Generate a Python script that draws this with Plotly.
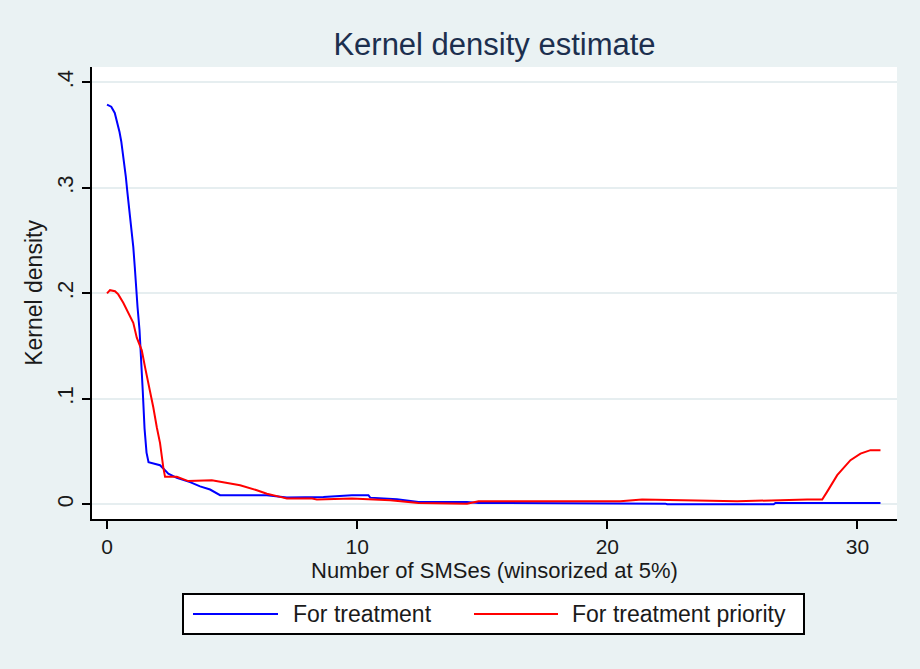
import plotly.graph_objects as go

# ---- data ----
treat_x = [0, 0.17, 0.31, 0.40, 0.50, 0.57, 0.67, 0.75, 0.81, 0.89, 0.98, 1.05, 1.11, 1.16,
           1.22, 1.30, 1.36, 1.43, 1.50, 1.58, 1.66, 2.12, 2.25, 2.45, 2.79, 3.32, 3.72, 4.12,
           4.52, 6.39, 7.19, 8.2, 8.65, 9.79, 10.45, 10.52, 11.59, 12.45, 14.39, 14.85, 17.72,
           18.12, 22.32, 22.39, 26.65, 26.72, 30.92]
treat_y = [0.379, 0.377, 0.371, 0.363, 0.353, 0.344, 0.327, 0.311, 0.297, 0.279, 0.262, 0.244,
           0.225, 0.206, 0.187, 0.165, 0.141, 0.107, 0.072, 0.049, 0.040, 0.037, 0.034, 0.029,
           0.025, 0.021, 0.017, 0.014, 0.0086, 0.0086, 0.0064, 0.0064, 0.0070, 0.0086, 0.0086,
           0.0063, 0.0048, 0.0022, 0.0022, 0.0013, 0.0013, 0.0006, 0.0006, 0.0, 0.0, 0.0013,
           0.0013]

prio_x = [0, 0.12, 0.32, 0.45, 0.65, 0.85, 1.05, 1.19, 1.39, 1.52, 1.69, 1.85, 1.99, 2.12,
          2.25, 2.32, 2.79, 3.25, 4.19, 4.92, 5.32, 5.99, 6.39, 6.92, 7.19, 8.2, 8.39, 9.79,
          11.32, 12.45, 14.39, 14.85, 20.52, 21.39, 25.19, 27.99, 28.59, 28.79, 29.05, 29.19,
          29.72, 30.12, 30.52, 30.92]
prio_y = [0.200, 0.203, 0.202, 0.199, 0.191, 0.181, 0.172, 0.158, 0.146, 0.130, 0.111, 0.092,
          0.073, 0.058, 0.035, 0.026, 0.026, 0.022, 0.0228, 0.020, 0.018, 0.0133, 0.010, 0.007,
          0.0054, 0.0054, 0.0045, 0.0054, 0.0038, 0.0013, 0.0006, 0.0029, 0.0029, 0.0045,
          0.0029, 0.0045, 0.0045, 0.012, 0.023, 0.0276, 0.0418, 0.048, 0.0513, 0.0513]

series_names = ["For treatment", "For treatment priority"]
x_ticks = [0, 10, 20, 30]
y_ticks = [0, 0.1, 0.2, 0.3, 0.4]
y_tick_labels = ["0", ".1", ".2", ".3", ".4"]

# ---- layout geometry (pixels) ----
W, H = 920, 669
L, R, T, B = 92, 897, 67, 519
BG = "#EAF2F3"
TXT = "#1a1a1a"
FONT = "Liberation Sans, Arial, sans-serif"


def px(xp):
    return (xp - L) / (R - L)


def py(yp):
    return (B - yp) / (B - T)


fig = go.Figure()
fig.add_trace(go.Scatter(x=treat_x, y=treat_y, mode="lines", name=series_names[0],
                         line=dict(color="#0000FF", width=2), showlegend=False))
fig.add_trace(go.Scatter(x=prio_x, y=prio_y, mode="lines", name=series_names[1],
                         line=dict(color="#FF0000", width=2), showlegend=False))

fig.update_layout(
    width=W, height=H, autosize=False,
    margin=dict(l=L, r=W - R, t=T, b=H - B, pad=0),
    paper_bgcolor=BG, plot_bgcolor="white",
    font=dict(family=FONT, color=TXT, size=22),
    title=dict(text="Kernel density estimate", x=0.5, xref="paper", xanchor="center",
               y=1 - 44 / H, yref="container", yanchor="middle",
               font=dict(size=31, color="#1c2f4e", family=FONT)),
    showlegend=False,
)

fig.update_xaxes(
    range=[-0.6, 31.58], tickvals=x_ticks, ticktext=[str(v) for v in x_ticks],
    showgrid=False, zeroline=False, showline=True, linecolor="black", linewidth=2,
    ticks="outside", ticklen=8, tickwidth=2, tickcolor="black",
    tickfont=dict(size=21, color=TXT), ticklabelstandoff=0,
)
fig.update_yaxes(
    range=[-0.01395, 0.4146], tickvals=y_ticks, ticktext=y_tick_labels, tickangle=-90,
    showgrid=True, gridcolor="#E6EEF0", gridwidth=1.5, zeroline=False,
    showline=True, linecolor="black", linewidth=2,
    ticks="outside", ticklen=8, tickwidth=2, tickcolor="black",
    tickfont=dict(size=22, color=TXT),
    title=dict(text="Kernel density", font=dict(size=23, color=TXT), standoff=4),
)

# x-axis title placed as annotation (Stata puts it tight under the labels)
fig.add_annotation(text="Number of SMSes (winsorized at 5%)", xref="paper", yref="paper",
                   x=px(494), y=py(570), xanchor="center", yanchor="middle", showarrow=False,
                   font=dict(size=22, color=TXT))

# ---- legend box drawn by hand (Stata style) ----
lg_x0, lg_x1, lg_y0, lg_y1 = 183, 804, 594, 634
mid = (lg_y0 + lg_y1) / 2
fig.add_shape(type="rect", xref="paper", yref="paper",
              x0=px(lg_x0), x1=px(lg_x1), y0=py(lg_y1), y1=py(lg_y0),
              line=dict(color="black", width=2), fillcolor="white", layer="above")
fig.add_shape(type="line", xref="paper", yref="paper",
              x0=px(193), x1=px(278), y0=py(mid), y1=py(mid),
              line=dict(color="#0000FF", width=2))
fig.add_shape(type="line", xref="paper", yref="paper",
              x0=px(474), x1=px(558), y0=py(mid), y1=py(mid),
              line=dict(color="#FF0000", width=2))
fig.add_annotation(text=series_names[0], xref="paper", yref="paper", x=px(291), y=py(mid),
                   xanchor="left", yanchor="middle", showarrow=False,
                   font=dict(size=23, color=TXT))
fig.add_annotation(text=series_names[1], xref="paper", yref="paper", x=px(570), y=py(mid),
                   xanchor="left", yanchor="middle", showarrow=False,
                   font=dict(size=23, color=TXT))

fig.write_html("out.html", config={"displayModeBar": False},
               post_script="document.body.style.margin='0';document.body.style.padding='0';")
